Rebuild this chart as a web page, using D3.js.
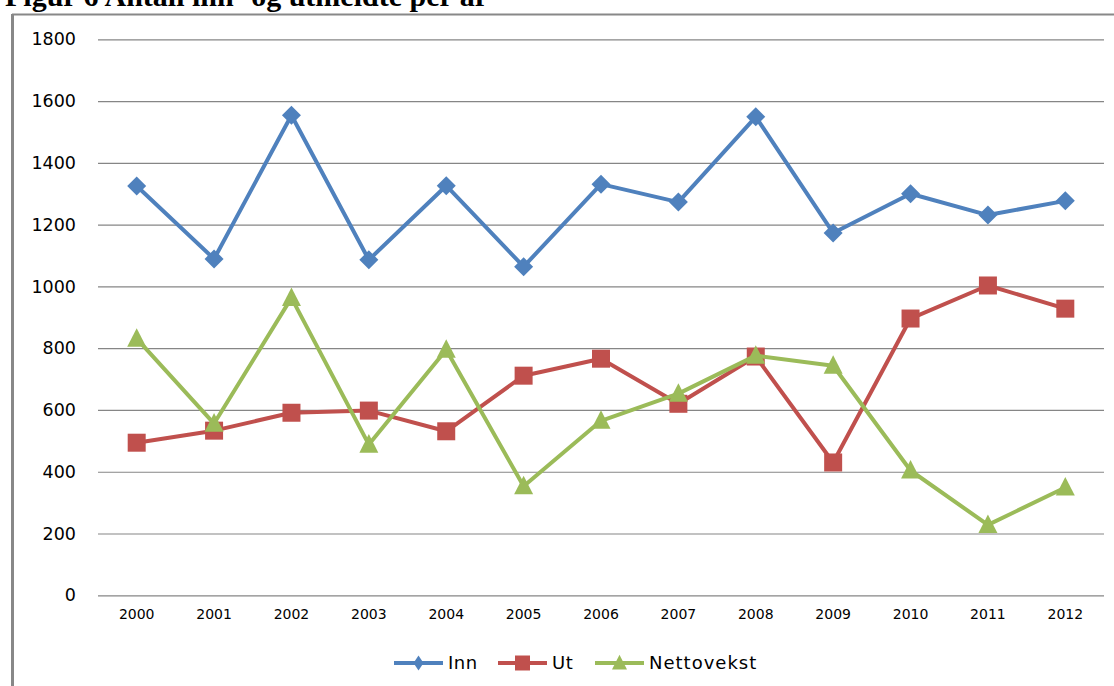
<!DOCTYPE html>
<html>
<head>
<meta charset="utf-8">
<script src="https://cdn.jsdelivr.net/npm/d3@7"></script>
<style>
  html, body { margin: 0; padding: 0; background: #fff; }
  svg { display: block; }
</style>
</head>
<body>
<svg id="chart" width="1114" height="686"></svg>
<script>
const years = ['2000', '2001', '2002', '2003', '2004', '2005', '2006', '2007', '2008', '2009', '2010', '2011', '2012'];
const inn = [1325, 1089, 1554, 1086, 1326, 1064, 1331, 1273, 1549, 1173, 1300, 1231, 1277];
const ut = [494, 533, 591, 598, 531, 711, 766, 620, 773, 430, 896, 1003, 928];
const netto = [831, 556, 963, 488, 795, 353, 565, 653, 776, 743, 404, 228, 349];
const yTicks = [0, 200, 400, 600, 800, 1000, 1200, 1400, 1600, 1800];

const series = [
  { name: 'Inn', values: inn, color: '#4f81bd', symbol: 'diamond' },
  { name: 'Ut', values: ut, color: '#c0504d', symbol: 'square' },
  { name: 'Nettovekst', values: netto, color: '#9bbb59', symbol: 'triangle' }
];

const svg = d3.select('#chart');
const plotLeft = 98, plotRight = 1104, plotTop = 39.3, plotBottom = 595.3;

// title, cut by the top edge as in the scan
svg.append('text')
  .attr('x', 5).attr('y', 6)
  .style('font', 'bold 30px "Liberation Serif", "Times New Roman", serif')
  .text('Figur 6 Antall inn- og utmeldte per år');

// frame
svg.append('line').attr('x1', 12).attr('x2', 1114).attr('y1', 14.5).attr('y2', 14.5)
  .attr('stroke', '#888').attr('stroke-width', 2);
svg.append('line').attr('x1', 12.5).attr('x2', 12.5).attr('y1', 14).attr('y2', 686)
  .attr('stroke', '#888').attr('stroke-width', 3);

const x = d3.scaleBand().domain(years).range([plotLeft, plotRight]);
const y = d3.scaleLinear().domain([0, 1800]).range([plotBottom, plotTop]);

// gridlines + y labels
const yAxis = svg.append('g')
  .attr('transform', `translate(${plotLeft},0)`)
  .call(d3.axisLeft(y).tickValues(yTicks).tickSize(-(plotRight - plotLeft)).tickPadding(22).tickFormat(d3.format('d')));
yAxis.select('.domain').remove();
yAxis.selectAll('.tick line').attr('stroke', '#868686').attr('stroke-width', 1.2);
yAxis.selectAll('.tick text')
  .attr('fill', '#000')
  .style('font', '17.5px "DejaVu Sans", Verdana, sans-serif');

// x labels
const xAxis = svg.append('g')
  .attr('transform', `translate(0,${plotBottom})`)
  .call(d3.axisBottom(x).tickSize(0).tickPadding(14));
xAxis.select('.domain').remove();
xAxis.selectAll('.tick text')
  .attr('fill', '#000')
  .style('font', '14px "DejaVu Sans", Verdana, sans-serif');

const cx = d => x(d) + x.bandwidth() / 2;

const symbolPath = (kind, s) => {
  if (kind === 'diamond') return `M0,${-s}L${s},0L0,${s}L${-s},0Z`;
  if (kind === 'square') return `M${-s},${-s}H${s}V${s}H${-s}Z`;
  return `M0,${-s * 1.1}L${s},${s * 0.85}H${-s}Z`;
};
const markerSize = { diamond: 9.5, square: 9, triangle: 9.5 };

const line = d3.line().x((d, i) => cx(years[i])).y(d => y(d));

series.forEach(s => {
  const g = svg.append('g');
  g.append('path')
    .datum(s.values)
    .attr('d', line)
    .attr('fill', 'none')
    .attr('stroke', s.color)
    .attr('stroke-width', 4)
    .attr('stroke-linejoin', 'round');
  g.selectAll('path.m')
    .data(s.values)
    .enter()
    .append('path')
    .attr('class', 'm')
    .attr('transform', (d, i) => `translate(${cx(years[i])},${y(d)})`)
    .attr('d', symbolPath(s.symbol, markerSize[s.symbol]))
    .attr('fill', s.color);
});

// legend
const legendX = [394, 498, 595];
const legend = svg.append('g').attr('transform', 'translate(0,663)');
series.forEach((s, i) => {
  const lg = legend.append('g').attr('transform', `translate(${legendX[i]},0)`);
  lg.append('line').attr('x1', 0).attr('x2', 49).attr('y1', 0).attr('y2', 0)
    .attr('stroke', s.color).attr('stroke-width', 4);
  lg.append('path')
    .attr('transform', 'translate(24.5,0)')
    .attr('d', s.symbol === 'diamond' ? `M0,-7.5L5,0L0,7.5L-5,0Z` : symbolPath(s.symbol, 7.5))
    .attr('fill', s.color);
  lg.append('text')
    .attr('x', 54).attr('y', 0).attr('dy', '0.36em')
    .style('font', '18px "DejaVu Sans", Verdana, sans-serif')
    .style('letter-spacing', s.name === 'Nettovekst' ? '1px' : '0.5px')
    .text(s.name);
});
</script>
</body>
</html>
